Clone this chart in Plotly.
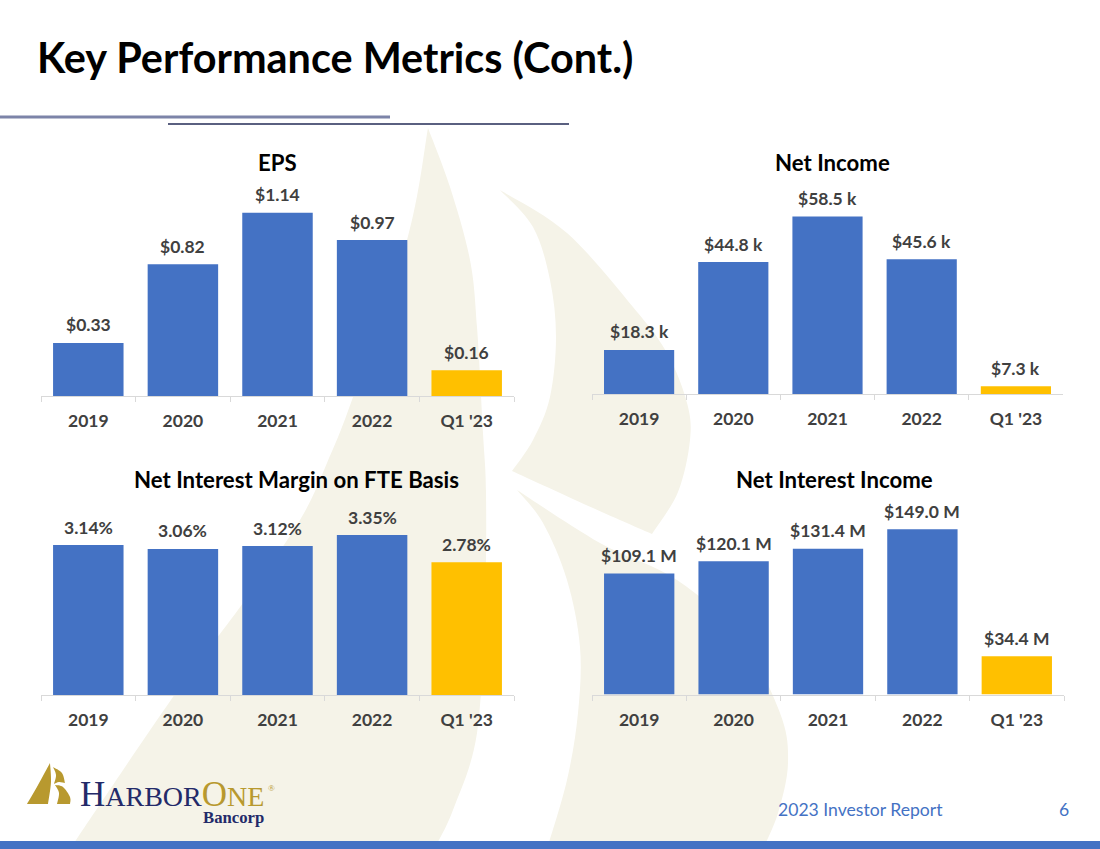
import plotly.graph_objects as go

W, H = 1100, 849
categories = ["2019", "2020", "2021", "2022", "Q1 '23"]
eps = [0.33, 0.82, 1.14, 0.97, 0.16]
net_income = [18.3, 44.8, 58.5, 45.6, 7.3]
nim = [3.14, 3.06, 3.12, 3.35, 2.78]
nii = [109.1, 120.1, 131.4, 149.0, 34.4]
eps_labels = ["$0.33", "$0.82", "$1.14", "$0.97", "$0.16"]
net_income_labels = ["$18.3 k", "$44.8 k", "$58.5 k", "$45.6 k", "$7.3 k"]
nim_labels = ["3.14%", "3.06%", "3.12%", "3.35%", "2.78%"]
nii_labels = ["$109.1 M", "$120.1 M", "$131.4 M", "$149.0 M", "$34.4 M"]

BLUE, GOLD = "#4472C4", "#FFC000"
FONT = "Lato"
GREY = "#404040"
AX = "#D9D9D9"
colors = [BLUE] * 4 + [GOLD]


def px(x):
    return x / W


def py(y):
    return 1 - y / H


def smooth(points, start=True):
    """Catmull-Rom edge through page-pixel points, as an SVG path in paper units."""
    out = []
    if start:
        out.append(f"M{px(points[0][0]):.5f},{py(points[0][1]):.5f}")
    for i in range(len(points) - 1):
        p0 = points[max(i - 1, 0)]
        p1 = points[i]
        p2 = points[i + 1]
        p3 = points[min(i + 2, len(points) - 1)]
        c1 = (p1[0] + (p2[0] - p0[0]) / 6, p1[1] + (p2[1] - p0[1]) / 6)
        c2 = (p2[0] - (p3[0] - p1[0]) / 6, p2[1] - (p3[1] - p1[1]) / 6)
        out.append(
            f"C{px(c1[0]):.5f},{py(c1[1]):.5f} {px(c2[0]):.5f},{py(c2[1]):.5f} "
            f"{px(p2[0]):.5f},{py(p2[1]):.5f}"
        )
    return " ".join(out)


def blob(*edges):
    parts = [smooth(edges[0])]
    for e in edges[1:]:
        parts.append(f"L{px(e[0][0]):.5f},{py(e[0][1]):.5f}")
        parts.append(smooth(e, start=False))
    return " ".join(parts) + " Z"


CREAM = "#F5F3E8"
LOGO_GOLD = "#B8992F"
sail_left = blob(
    [(428, 128), (450, 187), (470, 260), (477, 327), (483, 433), (486, 492), (485, 600), (477, 733), (453, 810), (434, 849)],
    [(70, 849), (78, 837), (173, 697), (243, 603), (300, 520), (327, 463), (352, 400), (407, 240), (428, 128)],
)
sail_upper = blob(
    [(500, 190), (567, 233), (633, 307), (667, 353), (687, 403), (690, 440), (678, 492), (652, 534)],
    [(652, 534), (593, 508), (512, 471)],
    [(512, 471), (533, 440), (550, 397), (556, 337), (550, 280), (533, 227), (500, 190)],
)
sail_lower = blob(
    [(517, 490), (600, 543), (677, 580), (740, 637), (780, 713), (788, 763), (778, 813), (763, 849)],
    [(547, 849), (567, 780), (578, 713), (580, 647), (567, 580), (543, 523), (517, 490)],
)
logo_a = blob(
    [(50, 763), (51, 782), (48, 804)],
    [(27, 804), (38, 785), (50, 763)],
)
logo_b = blob(
    [(53, 767), (62, 773), (65, 783)],
    [(65, 783), (59, 782), (54, 784)],
    [(54, 784), (56, 775), (53, 767)],
)
logo_c = blob(
    [(55, 785), (63, 787), (70, 797), (70, 804)],
    [(57, 804), (59, 793), (55, 785)],
)

shapes = []
for p, c in [(sail_left, CREAM), (sail_upper, CREAM), (sail_lower, CREAM),
             (logo_a, LOGO_GOLD), (logo_b, LOGO_GOLD), (logo_c, LOGO_GOLD)]:
    shapes.append(dict(type="path", path=p, xref="paper", yref="paper", fillcolor=c, line_width=0, layer="below"))
shapes += [
    dict(type="rect", xref="paper", yref="paper", x0=0, x1=1, y0=0, y1=py(841), fillcolor=BLUE, line_width=0, layer="below"),
    dict(type="line", xref="paper", yref="paper", x0=0, x1=px(390), y0=py(117), y1=py(117), line=dict(color="#7C84A8", width=3), layer="below"),
    dict(type="line", xref="paper", yref="paper", x0=px(168), x1=px(569), y0=py(124), y1=py(124), line=dict(color="#5A6080", width=2), layer="below"),
]

charts = [
    ("EPS", eps, eps_labels, (41, 514), 396, [0, 1.4], 171, 277, 162),
    ("Net Income", net_income, net_income_labels, (592, 1063), 394, [5, 65], 195, 832, 162),
    ("Net Interest Margin on FTE Basis", nim, nim_labels, (41, 514), 695, [0, 4], 504, 296, 479),
    ("Net Interest Income", nii, nii_labels, (592, 1064), 694.5, [0, 160], 517, 834, 479),
]

fig = go.Figure()
annotations = []
layout_axes = {}
for i, (name, vals, labels, xdom, bottom, yr, top, tx, ty) in enumerate(charts, start=1):
    sfx = "" if i == 1 else str(i)
    xa, ya = f"x{sfx}", f"y{sfx}"
    fig.add_trace(go.Bar(x=categories, y=vals, xaxis=xa, yaxis=ya, name=name, width=0.745,
                         marker=dict(color=colors, line_width=0), showlegend=False))
    layout_axes[f"xaxis{sfx}"] = dict(
        domain=[px(xdom[0]), px(xdom[1])], anchor=ya, type="category", tickson="boundaries",
        range=[-0.5, 4.5], categoryorder="array", categoryarray=categories,
        ticks="outside", ticklen=5, tickcolor=AX, tickwidth=1, showline=True, linecolor=AX, linewidth=1,
        showgrid=False, zeroline=False, fixedrange=True, ticklabelstandoff=9, tickangle=0,
        tickfont=dict(family=FONT, size=17.5, color=GREY, weight="bold"),
    )
    layout_axes[f"yaxis{sfx}"] = dict(domain=[py(bottom), py(top)], anchor=xa, range=yr, visible=False, fixedrange=True)
    for k, (v, t) in enumerate(zip(vals, labels)):
        annotations.append(dict(x=k, y=v, xref=xa, yref=ya, text=t, showarrow=False, yanchor="middle", yshift=18,
                                font=dict(family=FONT, size=17.5, color=GREY, weight="bold")))
    annotations.append(dict(x=px(tx), y=py(ty), xref="paper", yref="paper", text=name, showarrow=False,
                            xanchor="center", yanchor="middle",
                            font=dict(family=FONT, size=22.2, color="#000000", weight="bold")))

annotations += [
    dict(x=px(776), y=py(809), xref="paper", yref="paper", text="2023 Investor Report", showarrow=False,
         xanchor="left", yanchor="middle", font=dict(family=FONT, size=17.6, color=BLUE)),
    dict(x=px(1064), y=py(809), xref="paper", yref="paper", text="6", showarrow=False,
         xanchor="center", yanchor="middle", font=dict(family=FONT, size=17.6, color=BLUE)),
    dict(x=px(78), y=py(794), xref="paper", yref="paper", showarrow=False, xanchor="left", yanchor="middle",
         text='<span style="color:#232A69;font-size:35px">H</span><span style="color:#232A69;font-size:28px">ARBOR</span>'
              '<span style="color:#B8992F;font-size:35px">O</span><span style="color:#B8992F;font-size:28px">NE</span>',
         font=dict(family="Liberation Serif", size=28, color="#232A69")),
    dict(x=px(271), y=py(788), xref="paper", yref="paper", showarrow=False, xanchor="center", yanchor="middle",
         text="®", font=dict(family="Liberation Serif", size=9, color="#B8992F")),
    dict(x=px(233.5), y=py(817), xref="paper", yref="paper", text="Bancorp", showarrow=False,
         xanchor="center", yanchor="middle", font=dict(family="Liberation Serif", size=16.7, color="#232A69", weight="bold")),
]

fig.update_layout(
    width=W, height=H, margin=dict(l=0, r=0, t=0, b=0), autosize=False,
    paper_bgcolor="#FFFFFF", plot_bgcolor="rgba(0,0,0,0)",
    title=dict(text="Key Performance Metrics (Cont.)", xref="paper", yref="paper", x=px(37), y=py(59),
               xanchor="left", yanchor="middle", font=dict(family=FONT, size=41.4, color="#000000", weight="bold")),
    shapes=shapes, annotations=annotations, **layout_axes,
)
fig.write_html("out.html", config={"displayModeBar": False},
               post_script="document.body.style.margin='0';document.documentElement.style.overflow='hidden';")
